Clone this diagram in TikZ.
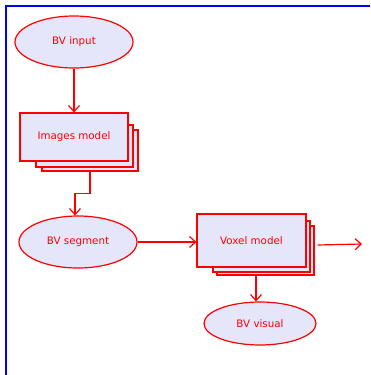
\documentclass[tikz,border=0pt]{standalone}
\usepackage{fontspec}
\setmainfont{DejaVu Sans}
\usetikzlibrary{shapes.geometric,arrows.meta}

\definecolor{boxfill}{RGB}{230,230,250}

\begin{document}
\begin{tikzpicture}[x=1pt, y=-1pt,
    flow/.style={draw=red, line width=1.2pt, -{Straight Barb[length=6pt,width=11pt,line width=1.2pt]}},
    oval/.style={ellipse, draw=red, fill=boxfill, line width=1.2pt, text=red, font=\fontsize{10.3}{12}\selectfont, inner sep=0pt},
    sheet/.style={rectangle, draw=red, fill=boxfill, line width=1.2pt, text=red, font=\fontsize{10.3}{12}\selectfont, inner sep=0pt}]
    % Page size and frame
    \useasboundingbox (0,0) rectangle (370,375);
    \draw[blue, line width=1.5pt] (6,375) -- (6,6) -- (370,6);

    % Start
    \node[oval, minimum width=118pt, minimum height=52pt] (in) at (74,42) {BV input};

    % Images model (stacked)
    \node[sheet, minimum width=96pt, minimum height=41pt] (img3) at (90,150.5) {};
    \node[sheet, minimum width=97pt, minimum height=42pt] (img2) at (84.5,146) {};
    \node[sheet, minimum width=108pt, minimum height=48pt] (img) at (74,137) {Images model};

    % Segmentation
    \node[oval, minimum width=118pt, minimum height=52pt] (seg) at (78,242) {BV segment};

    % Voxel model (stacked)
    \node[sheet, minimum width=97pt, minimum height=49pt] (vox3) at (265.5,250.5) {};
    \node[sheet, minimum width=97pt, minimum height=51pt] (vox2) at (261.5,246.5) {};
    \node[sheet, minimum width=109pt, minimum height=53pt] (vox) at (251.5,240.5) {Voxel model};

    % Visualisation
    \node[oval, minimum width=112pt, minimum height=43pt] (vis) at (260,323.5) {BV visual};
    \coordinate (out) at (362,244);

    % Connectors
    \draw[flow] (in.south) -- (img.north);
    \draw[flow] (img3.south) -- ++(0,22) -| ([xshift=-3pt]seg.north);
    \draw[flow] (seg.east) -- (seg.east -| vox.west);
    \draw[flow] ([xshift=-4pt]vis.north |- vox3.south) -- ([xshift=-4pt]vis.north);
    \draw[flow] ([xshift=3pt]vox3.east |- 0,245) -- (out);
\end{tikzpicture}
\end{document}
